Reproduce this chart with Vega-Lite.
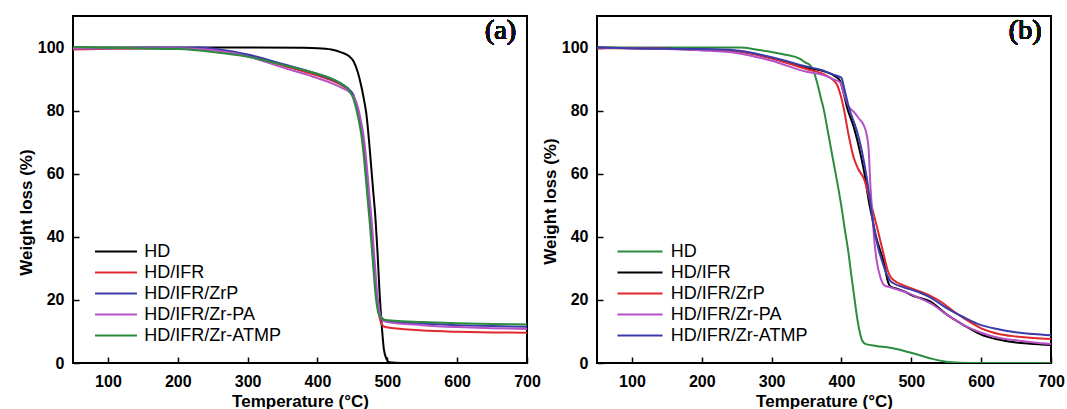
{
  "$schema": "https://vega.github.io/schema/vega-lite/v6.json",
  "padding": {"left": 16, "top": 15, "right": 5, "bottom": 5},
  "background": "white",
  "bounds": "flush",
  "spacing": 70,
  "config": {
    "view": {"stroke": "black", "strokeWidth": 2},
    "axis": {
      "labelFont": "Liberation Sans", "labelFontWeight": "bold", "labelFontSize": 16, "labelColor": "black",
      "titleFont": "Liberation Sans", "titleFontWeight": "bold", "titleFontSize": 17, "titleColor": "black",
      "domain": false, "grid": false, "tickColor": "black", "tickWidth": 1.5, "tickSize": -6,
      "labelFlush": false, "labelOverlap": false
    }
  },
  "resolve": {"scale": {"color": "independent"}, "legend": {"color": "independent"}},
  "datasets": {
    "a": [
      {"T":50,"W":100,"S":"HD"},{"T":100,"W":100,"S":"HD"},{"T":200,"W":100,"S":"HD"},{"T":300,"W":100,"S":"HD"},{"T":380,"W":99.9,"S":"HD"},{"T":400,"W":99.8,"S":"HD"},{"T":420,"W":99.4,"S":"HD"},{"T":435,"W":98.4,"S":"HD"},{"T":445,"W":97.3,"S":"HD"},{"T":452,"W":95.5,"S":"HD"},{"T":458,"W":92,"S":"HD"},{"T":463,"W":87.5,"S":"HD"},{"T":467,"W":83,"S":"HD"},{"T":470,"W":79,"S":"HD"},{"T":474,"W":70,"S":"HD"},{"T":477,"W":62,"S":"HD"},{"T":480,"W":54,"S":"HD"},{"T":483,"W":46,"S":"HD"},{"T":486,"W":35,"S":"HD"},{"T":489,"W":22,"S":"HD"},{"T":492,"W":12,"S":"HD"},{"T":495,"W":4.5,"S":"HD"},{"T":499,"W":1.2,"S":"HD"},{"T":503,"W":0.2,"S":"HD"},{"T":520,"W":0,"S":"HD"},{"T":700,"W":0,"S":"HD"},

      {"T":50,"W":99.4,"S":"HD/IFR"},{"T":100,"W":99.6,"S":"HD/IFR"},{"T":150,"W":99.7,"S":"HD/IFR"},{"T":200,"W":99.7,"S":"HD/IFR"},{"T":250,"W":99.2,"S":"HD/IFR"},{"T":300,"W":97.4,"S":"HD/IFR"},{"T":350,"W":94.3,"S":"HD/IFR"},{"T":400,"W":91.1,"S":"HD/IFR"},{"T":420,"W":89.6,"S":"HD/IFR"},{"T":435,"W":88,"S":"HD/IFR"},{"T":446,"W":86.3,"S":"HD/IFR"},{"T":452,"W":84.3,"S":"HD/IFR"},{"T":456,"W":81,"S":"HD/IFR"},{"T":460,"W":77,"S":"HD/IFR"},{"T":464,"W":72,"S":"HD/IFR"},{"T":468,"W":64,"S":"HD/IFR"},{"T":472,"W":54,"S":"HD/IFR"},{"T":476,"W":44,"S":"HD/IFR"},{"T":480,"W":33,"S":"HD/IFR"},{"T":484,"W":22.5,"S":"HD/IFR"},{"T":488,"W":15.5,"S":"HD/IFR"},{"T":492,"W":12.3,"S":"HD/IFR"},{"T":497,"W":11.4,"S":"HD/IFR"},{"T":510,"W":11,"S":"HD/IFR"},{"T":550,"W":10.3,"S":"HD/IFR"},{"T":600,"W":9.9,"S":"HD/IFR"},{"T":650,"W":9.7,"S":"HD/IFR"},{"T":700,"W":9.6,"S":"HD/IFR"},

      {"T":50,"W":99.8,"S":"HD/IFR/ZrP"},{"T":100,"W":99.8,"S":"HD/IFR/ZrP"},{"T":150,"W":99.9,"S":"HD/IFR/ZrP"},{"T":200,"W":99.9,"S":"HD/IFR/ZrP"},{"T":230,"W":100,"S":"HD/IFR/ZrP"},{"T":260,"W":99.4,"S":"HD/IFR/ZrP"},{"T":300,"W":97.8,"S":"HD/IFR/ZrP"},{"T":350,"W":94.8,"S":"HD/IFR/ZrP"},{"T":400,"W":91.6,"S":"HD/IFR/ZrP"},{"T":420,"W":90,"S":"HD/IFR/ZrP"},{"T":435,"W":88.4,"S":"HD/IFR/ZrP"},{"T":446,"W":86.6,"S":"HD/IFR/ZrP"},{"T":452,"W":84.8,"S":"HD/IFR/ZrP"},{"T":456,"W":81.5,"S":"HD/IFR/ZrP"},{"T":460,"W":77.5,"S":"HD/IFR/ZrP"},{"T":464,"W":72.5,"S":"HD/IFR/ZrP"},{"T":468,"W":65,"S":"HD/IFR/ZrP"},{"T":472,"W":55,"S":"HD/IFR/ZrP"},{"T":476,"W":45,"S":"HD/IFR/ZrP"},{"T":480,"W":34,"S":"HD/IFR/ZrP"},{"T":484,"W":23,"S":"HD/IFR/ZrP"},{"T":488,"W":17,"S":"HD/IFR/ZrP"},{"T":492,"W":14.3,"S":"HD/IFR/ZrP"},{"T":497,"W":13.5,"S":"HD/IFR/ZrP"},{"T":510,"W":13.1,"S":"HD/IFR/ZrP"},{"T":550,"W":12.5,"S":"HD/IFR/ZrP"},{"T":600,"W":12,"S":"HD/IFR/ZrP"},{"T":650,"W":11.7,"S":"HD/IFR/ZrP"},{"T":700,"W":11.5,"S":"HD/IFR/ZrP"},

      {"T":50,"W":99.7,"S":"HD/IFR/Zr-PA"},{"T":100,"W":99.8,"S":"HD/IFR/Zr-PA"},{"T":150,"W":99.8,"S":"HD/IFR/Zr-PA"},{"T":200,"W":99.8,"S":"HD/IFR/Zr-PA"},{"T":250,"W":99.2,"S":"HD/IFR/Zr-PA"},{"T":300,"W":97.2,"S":"HD/IFR/Zr-PA"},{"T":350,"W":93.7,"S":"HD/IFR/Zr-PA"},{"T":400,"W":90.3,"S":"HD/IFR/Zr-PA"},{"T":420,"W":88.7,"S":"HD/IFR/Zr-PA"},{"T":435,"W":87.2,"S":"HD/IFR/Zr-PA"},{"T":446,"W":85.8,"S":"HD/IFR/Zr-PA"},{"T":453,"W":84,"S":"HD/IFR/Zr-PA"},{"T":458,"W":81,"S":"HD/IFR/Zr-PA"},{"T":462,"W":77,"S":"HD/IFR/Zr-PA"},{"T":466,"W":72,"S":"HD/IFR/Zr-PA"},{"T":470,"W":64,"S":"HD/IFR/Zr-PA"},{"T":474,"W":54,"S":"HD/IFR/Zr-PA"},{"T":478,"W":44,"S":"HD/IFR/Zr-PA"},{"T":482,"W":32,"S":"HD/IFR/Zr-PA"},{"T":486,"W":21,"S":"HD/IFR/Zr-PA"},{"T":490,"W":15,"S":"HD/IFR/Zr-PA"},{"T":494,"W":13.4,"S":"HD/IFR/Zr-PA"},{"T":500,"W":13,"S":"HD/IFR/Zr-PA"},{"T":550,"W":12,"S":"HD/IFR/Zr-PA"},{"T":600,"W":11.4,"S":"HD/IFR/Zr-PA"},{"T":650,"W":11,"S":"HD/IFR/Zr-PA"},{"T":700,"W":10.8,"S":"HD/IFR/Zr-PA"},

      {"T":50,"W":100.2,"S":"HD/IFR/Zr-ATMP"},{"T":100,"W":99.9,"S":"HD/IFR/Zr-ATMP"},{"T":150,"W":99.7,"S":"HD/IFR/Zr-ATMP"},{"T":200,"W":99.5,"S":"HD/IFR/Zr-ATMP"},{"T":250,"W":98.6,"S":"HD/IFR/Zr-ATMP"},{"T":300,"W":97.1,"S":"HD/IFR/Zr-ATMP"},{"T":350,"W":94.5,"S":"HD/IFR/Zr-ATMP"},{"T":400,"W":91.7,"S":"HD/IFR/Zr-ATMP"},{"T":420,"W":90.2,"S":"HD/IFR/Zr-ATMP"},{"T":435,"W":88.4,"S":"HD/IFR/Zr-ATMP"},{"T":446,"W":86.2,"S":"HD/IFR/Zr-ATMP"},{"T":451,"W":84,"S":"HD/IFR/Zr-ATMP"},{"T":455,"W":81,"S":"HD/IFR/Zr-ATMP"},{"T":459,"W":77,"S":"HD/IFR/Zr-ATMP"},{"T":463,"W":72,"S":"HD/IFR/Zr-ATMP"},{"T":467,"W":64,"S":"HD/IFR/Zr-ATMP"},{"T":471,"W":54,"S":"HD/IFR/Zr-ATMP"},{"T":475,"W":44,"S":"HD/IFR/Zr-ATMP"},{"T":479,"W":33,"S":"HD/IFR/Zr-ATMP"},{"T":483,"W":22,"S":"HD/IFR/Zr-ATMP"},{"T":487,"W":16,"S":"HD/IFR/Zr-ATMP"},{"T":491,"W":14.3,"S":"HD/IFR/Zr-ATMP"},{"T":496,"W":13.7,"S":"HD/IFR/Zr-ATMP"},{"T":510,"W":13.4,"S":"HD/IFR/Zr-ATMP"},{"T":550,"W":13,"S":"HD/IFR/Zr-ATMP"},{"T":600,"W":12.6,"S":"HD/IFR/Zr-ATMP"},{"T":650,"W":12.4,"S":"HD/IFR/Zr-ATMP"},{"T":700,"W":12.2,"S":"HD/IFR/Zr-ATMP"}
    ],
    "b": [
      {"T":50,"W":100,"S":"HD"},{"T":100,"W":100,"S":"HD"},{"T":150,"W":100,"S":"HD"},{"T":200,"W":100,"S":"HD"},{"T":255,"W":100,"S":"HD"},{"T":280,"W":99.3,"S":"HD"},{"T":300,"W":98.6,"S":"HD"},{"T":320,"W":97.7,"S":"HD"},{"T":340,"W":96.5,"S":"HD"},{"T":348,"W":95.3,"S":"HD"},{"T":355,"W":94.4,"S":"HD"},{"T":360,"W":92.5,"S":"HD"},{"T":365,"W":89,"S":"HD"},{"T":370,"W":84.5,"S":"HD"},{"T":375,"W":80,"S":"HD"},{"T":380,"W":74,"S":"HD"},{"T":385,"W":68,"S":"HD"},{"T":390,"W":62,"S":"HD"},{"T":395,"W":56,"S":"HD"},{"T":400,"W":49.5,"S":"HD"},{"T":405,"W":42,"S":"HD"},{"T":410,"W":35,"S":"HD"},{"T":414,"W":28,"S":"HD"},{"T":418,"W":21.5,"S":"HD"},{"T":422,"W":15,"S":"HD"},{"T":426,"W":10,"S":"HD"},{"T":430,"W":7,"S":"HD"},{"T":435,"W":6,"S":"HD"},{"T":450,"W":5.4,"S":"HD"},{"T":470,"W":4.8,"S":"HD"},{"T":490,"W":3.8,"S":"HD"},{"T":510,"W":2.6,"S":"HD"},{"T":530,"W":1.3,"S":"HD"},{"T":550,"W":0.4,"S":"HD"},{"T":570,"W":0.1,"S":"HD"},{"T":600,"W":0,"S":"HD"},{"T":700,"W":0,"S":"HD"},

      {"T":50,"W":100,"S":"HD/IFR"},{"T":100,"W":99.8,"S":"HD/IFR"},{"T":150,"W":99.6,"S":"HD/IFR"},{"T":200,"W":99.4,"S":"HD/IFR"},{"T":250,"W":98.9,"S":"HD/IFR"},{"T":300,"W":96.7,"S":"HD/IFR"},{"T":350,"W":93.5,"S":"HD/IFR"},{"T":375,"W":92.5,"S":"HD/IFR"},{"T":390,"W":91,"S":"HD/IFR"},{"T":398,"W":89.5,"S":"HD/IFR"},{"T":402,"W":86.5,"S":"HD/IFR"},{"T":408,"W":81,"S":"HD/IFR"},{"T":418,"W":74.5,"S":"HD/IFR"},{"T":427,"W":66.5,"S":"HD/IFR"},{"T":433,"W":60,"S":"HD/IFR"},{"T":439,"W":51.5,"S":"HD/IFR"},{"T":444,"W":46,"S":"HD/IFR"},{"T":449,"W":40.5,"S":"HD/IFR"},{"T":455,"W":36,"S":"HD/IFR"},{"T":460,"W":32.5,"S":"HD/IFR"},{"T":467,"W":25.5,"S":"HD/IFR"},{"T":470,"W":24.3,"S":"HD/IFR"},{"T":480,"W":23.5,"S":"HD/IFR"},{"T":490,"W":22.7,"S":"HD/IFR"},{"T":500,"W":21.5,"S":"HD/IFR"},{"T":527,"W":19.5,"S":"HD/IFR"},{"T":550,"W":15.5,"S":"HD/IFR"},{"T":575,"W":12,"S":"HD/IFR"},{"T":600,"W":9,"S":"HD/IFR"},{"T":623,"W":7.5,"S":"HD/IFR"},{"T":650,"W":6.5,"S":"HD/IFR"},{"T":670,"W":6.1,"S":"HD/IFR"},{"T":700,"W":5.7,"S":"HD/IFR"},

      {"T":50,"W":99.8,"S":"HD/IFR/ZrP"},{"T":100,"W":99.8,"S":"HD/IFR/ZrP"},{"T":150,"W":99.6,"S":"HD/IFR/ZrP"},{"T":200,"W":99.3,"S":"HD/IFR/ZrP"},{"T":250,"W":98.8,"S":"HD/IFR/ZrP"},{"T":300,"W":96.5,"S":"HD/IFR/ZrP"},{"T":350,"W":93.2,"S":"HD/IFR/ZrP"},{"T":375,"W":91.5,"S":"HD/IFR/ZrP"},{"T":393,"W":88.5,"S":"HD/IFR/ZrP"},{"T":398,"W":85.5,"S":"HD/IFR/ZrP"},{"T":403,"W":81,"S":"HD/IFR/ZrP"},{"T":410,"W":72.5,"S":"HD/IFR/ZrP"},{"T":417,"W":65.5,"S":"HD/IFR/ZrP"},{"T":424,"W":61.5,"S":"HD/IFR/ZrP"},{"T":432,"W":58.5,"S":"HD/IFR/ZrP"},{"T":441,"W":51.4,"S":"HD/IFR/ZrP"},{"T":451,"W":43,"S":"HD/IFR/ZrP"},{"T":460,"W":34.8,"S":"HD/IFR/ZrP"},{"T":466,"W":29.5,"S":"HD/IFR/ZrP"},{"T":470,"W":27.4,"S":"HD/IFR/ZrP"},{"T":475,"W":26.2,"S":"HD/IFR/ZrP"},{"T":490,"W":24.5,"S":"HD/IFR/ZrP"},{"T":513,"W":22.6,"S":"HD/IFR/ZrP"},{"T":528,"W":21.2,"S":"HD/IFR/ZrP"},{"T":542,"W":19.5,"S":"HD/IFR/ZrP"},{"T":560,"W":16.5,"S":"HD/IFR/ZrP"},{"T":580,"W":13.5,"S":"HD/IFR/ZrP"},{"T":600,"W":11,"S":"HD/IFR/ZrP"},{"T":625,"W":9.2,"S":"HD/IFR/ZrP"},{"T":650,"W":8.4,"S":"HD/IFR/ZrP"},{"T":675,"W":7.9,"S":"HD/IFR/ZrP"},{"T":700,"W":7.6,"S":"HD/IFR/ZrP"},

      {"T":50,"W":99.9,"S":"HD/IFR/Zr-PA"},{"T":100,"W":99.8,"S":"HD/IFR/Zr-PA"},{"T":150,"W":99.5,"S":"HD/IFR/Zr-PA"},{"T":200,"W":99.1,"S":"HD/IFR/Zr-PA"},{"T":250,"W":98.3,"S":"HD/IFR/Zr-PA"},{"T":300,"W":95.8,"S":"HD/IFR/Zr-PA"},{"T":350,"W":92.3,"S":"HD/IFR/Zr-PA"},{"T":375,"W":91.2,"S":"HD/IFR/Zr-PA"},{"T":390,"W":89.8,"S":"HD/IFR/Zr-PA"},{"T":398,"W":89,"S":"HD/IFR/Zr-PA"},{"T":404,"W":85,"S":"HD/IFR/Zr-PA"},{"T":410,"W":81.5,"S":"HD/IFR/Zr-PA"},{"T":418,"W":79.5,"S":"HD/IFR/Zr-PA"},{"T":425,"W":77.5,"S":"HD/IFR/Zr-PA"},{"T":432,"W":75.3,"S":"HD/IFR/Zr-PA"},{"T":436,"W":72.5,"S":"HD/IFR/Zr-PA"},{"T":439,"W":67.5,"S":"HD/IFR/Zr-PA"},{"T":441,"W":58,"S":"HD/IFR/Zr-PA"},{"T":444,"W":48,"S":"HD/IFR/Zr-PA"},{"T":447,"W":39,"S":"HD/IFR/Zr-PA"},{"T":450,"W":33,"S":"HD/IFR/Zr-PA"},{"T":456,"W":27,"S":"HD/IFR/Zr-PA"},{"T":462,"W":24.5,"S":"HD/IFR/Zr-PA"},{"T":470,"W":24,"S":"HD/IFR/Zr-PA"},{"T":480,"W":23.3,"S":"HD/IFR/Zr-PA"},{"T":494,"W":22.3,"S":"HD/IFR/Zr-PA"},{"T":510,"W":20.7,"S":"HD/IFR/Zr-PA"},{"T":527,"W":19,"S":"HD/IFR/Zr-PA"},{"T":550,"W":15.5,"S":"HD/IFR/Zr-PA"},{"T":575,"W":12,"S":"HD/IFR/Zr-PA"},{"T":600,"W":9.6,"S":"HD/IFR/Zr-PA"},{"T":625,"W":8,"S":"HD/IFR/Zr-PA"},{"T":650,"W":7.2,"S":"HD/IFR/Zr-PA"},{"T":675,"W":6.5,"S":"HD/IFR/Zr-PA"},{"T":700,"W":6,"S":"HD/IFR/Zr-PA"},

      {"T":50,"W":100,"S":"HD/IFR/Zr-ATMP"},{"T":100,"W":99.8,"S":"HD/IFR/Zr-ATMP"},{"T":150,"W":99.6,"S":"HD/IFR/Zr-ATMP"},{"T":200,"W":99.5,"S":"HD/IFR/Zr-ATMP"},{"T":250,"W":99.1,"S":"HD/IFR/Zr-ATMP"},{"T":300,"W":96.9,"S":"HD/IFR/Zr-ATMP"},{"T":350,"W":94,"S":"HD/IFR/Zr-ATMP"},{"T":375,"W":92.6,"S":"HD/IFR/Zr-ATMP"},{"T":390,"W":91.3,"S":"HD/IFR/Zr-ATMP"},{"T":400,"W":90.4,"S":"HD/IFR/Zr-ATMP"},{"T":404,"W":87,"S":"HD/IFR/Zr-ATMP"},{"T":410,"W":81.5,"S":"HD/IFR/Zr-ATMP"},{"T":422,"W":73.6,"S":"HD/IFR/Zr-ATMP"},{"T":428,"W":68.5,"S":"HD/IFR/Zr-ATMP"},{"T":432,"W":64,"S":"HD/IFR/Zr-ATMP"},{"T":436,"W":59,"S":"HD/IFR/Zr-ATMP"},{"T":440,"W":53,"S":"HD/IFR/Zr-ATMP"},{"T":446,"W":43.5,"S":"HD/IFR/Zr-ATMP"},{"T":452,"W":37,"S":"HD/IFR/Zr-ATMP"},{"T":458,"W":32.4,"S":"HD/IFR/Zr-ATMP"},{"T":465,"W":28,"S":"HD/IFR/Zr-ATMP"},{"T":470,"W":26,"S":"HD/IFR/Zr-ATMP"},{"T":475,"W":25.2,"S":"HD/IFR/Zr-ATMP"},{"T":489,"W":24,"S":"HD/IFR/Zr-ATMP"},{"T":510,"W":22.5,"S":"HD/IFR/Zr-ATMP"},{"T":527,"W":20.8,"S":"HD/IFR/Zr-ATMP"},{"T":550,"W":17.5,"S":"HD/IFR/Zr-ATMP"},{"T":575,"W":14.5,"S":"HD/IFR/Zr-ATMP"},{"T":600,"W":12,"S":"HD/IFR/Zr-ATMP"},{"T":625,"W":10.7,"S":"HD/IFR/Zr-ATMP"},{"T":647,"W":9.8,"S":"HD/IFR/Zr-ATMP"},{"T":675,"W":9.2,"S":"HD/IFR/Zr-ATMP"},{"T":700,"W":8.8,"S":"HD/IFR/Zr-ATMP"}
    ]
  },
  "hconcat": [
    {
      "width": 454, "height": 347,
      "data": {"name": "a"},
      "layer": [
        {
          "mark": {"type": "line", "strokeWidth": 2, "interpolate": "monotone", "clip": true},
          "encoding": {
            "x": {"field": "T", "type": "quantitative",
              "scale": {"domain": [50, 700], "nice": false, "zero": false},
              "axis": {"values": [100,150,200,250,300,350,400,450,500,550,600,650,700],
                "labelExpr": "datum.value % 100 === 0 ? datum.label : ''",
                "tickDash": {"condition": {"test": "datum.value % 100 !== 0", "value": [3, 20]}, "value": [6, 0]},
                "labelPadding": 16, "title": "Temperature (°C)", "titleBaseline": "alphabetic", "titleY": 43.5}},
            "y": {"field": "W", "type": "quantitative",
              "scale": {"domain": [0, 110], "nice": false},
              "axis": {"values": [0,10,20,30,40,50,60,70,80,90,100],
                "labelExpr": "datum.value % 20 === 0 ? datum.label : ''",
                "tickDash": {"condition": {"test": "datum.value % 20 !== 0", "value": [3, 20]}, "value": [6, 0]},
                "labelPadding": 15, "title": "Weight loss (%)", "titleX": -47, "titleY": 196, "titleAngle": -90, "titleBaseline": "middle", "titleAlign": "center"}},
            "color": {"field": "S", "type": "nominal",
              "scale": {"domain": ["HD","HD/IFR","HD/IFR/ZrP","HD/IFR/Zr-PA","HD/IFR/Zr-ATMP"],
                        "range": ["#000000","#e0282e","#3a3caa","#b552c6","#2b8c3e"]},
              "legend": {"title": null, "orient": "none", "legendX": 34, "legendY": 226.5, "symbolType": "M-4,0H4", "symbolSize": 110, "symbolStrokeWidth": 2, "symbolFillColor": "transparent", "labelFont": "Liberation Sans", "labelFontSize": 18, "labelColor": "black", "labelOffset": 19.3, "rowPadding": 3, "padding": 0}}
          }
        },
        {
          "mark": {"type": "text", "font": "Liberation Serif", "fontSize": 28, "fontWeight": "normal", "align": "center", "baseline": "alphabetic", "color": "#111111"},
          "encoding": {"x": {"datum": 662}, "y": {"datum": 102.8}, "text": {"value": "(a)"}}
        }
      ]
    },
    {
      "width": 454, "height": 347,
      "data": {"name": "b"},
      "layer": [
        {
          "mark": {"type": "line", "strokeWidth": 2, "interpolate": "monotone", "clip": true},
          "encoding": {
            "x": {"field": "T", "type": "quantitative",
              "scale": {"domain": [50, 700], "nice": false, "zero": false},
              "axis": {"values": [100,150,200,250,300,350,400,450,500,550,600,650,700],
                "labelExpr": "datum.value % 100 === 0 ? datum.label : ''",
                "tickDash": {"condition": {"test": "datum.value % 100 !== 0", "value": [3, 20]}, "value": [6, 0]},
                "labelPadding": 16, "title": "Temperature (°C)", "titleBaseline": "alphabetic", "titleY": 43.5}},
            "y": {"field": "W", "type": "quantitative",
              "scale": {"domain": [0, 110], "nice": false},
              "axis": {"values": [0,10,20,30,40,50,60,70,80,90,100],
                "labelExpr": "datum.value % 20 === 0 ? datum.label : ''",
                "tickDash": {"condition": {"test": "datum.value % 20 !== 0", "value": [3, 20]}, "value": [6, 0]},
                "labelPadding": 15, "title": "Weight loss (%)", "titleX": -47, "titleY": 185, "titleAngle": -90, "titleBaseline": "middle", "titleAlign": "center"}},
            "color": {"field": "S", "type": "nominal",
              "scale": {"domain": ["HD","HD/IFR","HD/IFR/ZrP","HD/IFR/Zr-PA","HD/IFR/Zr-ATMP"],
                        "range": ["#2b8c3e","#000000","#e0282e","#b552c6","#3a3caa"]},
              "legend": {"title": null, "orient": "none", "legendX": 34, "legendY": 226.5, "symbolType": "M-4,0H4", "symbolSize": 127, "symbolStrokeWidth": 2, "symbolFillColor": "transparent", "labelFont": "Liberation Sans", "labelFontSize": 18, "labelColor": "black", "labelOffset": 21.8, "rowPadding": 3, "padding": 0}}
          }
        },
        {
          "mark": {"type": "text", "font": "Liberation Serif", "fontSize": 28, "fontWeight": "normal", "align": "center", "baseline": "alphabetic", "color": "#111111"},
          "encoding": {"x": {"datum": 663}, "y": {"datum": 102.8}, "text": {"value": "(b)"}}
        }
      ]
    }
  ]
}
